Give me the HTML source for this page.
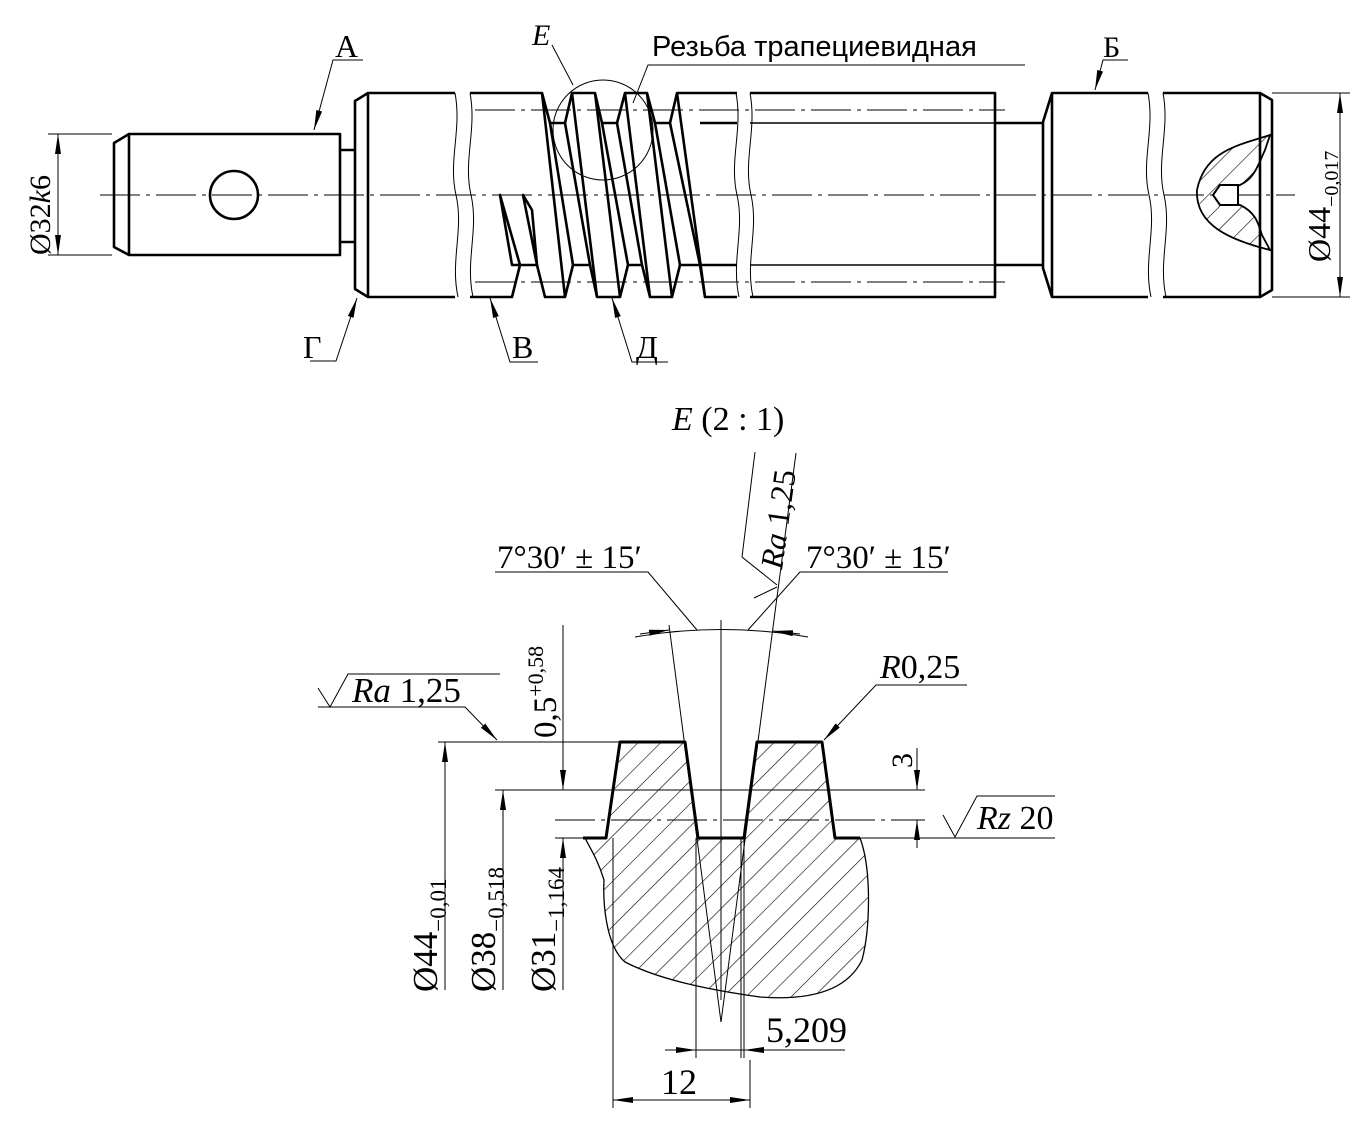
<!DOCTYPE html>
<html><head><meta charset="utf-8"><style>
html,body{margin:0;padding:0;background:#fff;}
svg{display:block;}
text{font-family:"Liberation Serif",serif;fill:#000;}
</style></head><body>
<svg width="1366" height="1128" viewBox="0 0 1366 1128" xmlns="http://www.w3.org/2000/svg">
<defs>
<marker id="ar" viewBox="0 0 20 8" refX="20" refY="4" markerWidth="20" markerHeight="8" markerUnits="userSpaceOnUse" orient="auto-start-reverse"><path d="M0,1 L20,4 L0,7 Z" fill="#000"/></marker>
<pattern id="h" patternUnits="userSpaceOnUse" width="16" height="16" patternTransform="rotate(45)"><line x1="0" y1="0" x2="0" y2="16" stroke="#000" stroke-width="1.2"/></pattern>
</defs>

<g fill="none" stroke="#000" stroke-width="1">
<line x1="100" y1="195" x2="1295" y2="195" stroke-dasharray="40,6,4,6"/>
<line x1="475" y1="110" x2="1005" y2="110" stroke-dasharray="40,6,4,6"/>
<line x1="475" y1="282" x2="1005" y2="282" stroke-dasharray="40,6,4,6"/>
<line x1="48" y1="134" x2="112" y2="134"/><line x1="48" y1="255" x2="112" y2="255"/>
<line x1="58" y1="134" x2="58" y2="255" marker-start="url(#ar)" marker-end="url(#ar)"/>
<line x1="1272" y1="93" x2="1350" y2="93"/><line x1="1272" y1="297" x2="1350" y2="297"/>
<line x1="1340" y1="93" x2="1340" y2="297" marker-start="url(#ar)" marker-end="url(#ar)"/>
<path d="M455,93 C462,130 448,160 456,195 C464,230 450,260 458,297"/>
<path d="M470,93 C477,130 463,160 471,195 C479,230 465,260 473,297"/>
<path d="M736,93 C743,130 729,160 737,195 C745,230 731,260 739,297"/>
<path d="M750,93 C757,130 743,160 751,195 C759,230 745,260 753,297"/>
<path d="M1148,93 C1155,130 1141,160 1149,195 C1157,230 1143,260 1151,297"/>
<path d="M1163,93 C1170,130 1156,160 1164,195 C1172,230 1158,260 1166,297"/>
<circle cx="603" cy="130" r="50"/>
<polyline points="363,60 333,60 314,130" marker-end="url(#ar)"/>
<polyline points="1128,60 1103,60 1095,90" marker-end="url(#ar)"/>
<polyline points="1025,65 648,65 633,103"/>
<line x1="552" y1="45" x2="573" y2="85"/>
<polyline points="310,361 336,361 357,298" marker-end="url(#ar)"/>
<polyline points="538,362 510,362 490,298" marker-end="url(#ar)"/>
<polyline points="668,362 632,362 612,298" marker-end="url(#ar)"/>
</g>
<g fill="none" stroke="#000" stroke-width="2.6" stroke-linejoin="round">
<path d="M129,134 L340,134 L340,255 L129,255 L114,247 L114,143 Z"/>
<line x1="129" y1="134" x2="129" y2="255"/>
<circle cx="234" cy="195" r="24"/>
<path d="M340,150 L355,150 M340,242 L355,242"/>
<path d="M455,93 L368,93 L355,101 L355,289 L368,297 L455,297"/>
<line x1="368" y1="93" x2="368" y2="297"/>
<polyline points="470,93 542,93 550,123 565,123 572,93 595,93 602,123 617,123 625,93 647,93 655,123 670,123 677,93 737,93"/>
<polyline points="470,297 512,297 520,265 537,265 545,297 565,297 573,265 590,265 597,297 620,297 628,265 642,265 650,297 672,297 680,265 700,265 705,297 737,297"/>
<line x1="542" y1="93" x2="565" y2="297"/>
<line x1="550" y1="123" x2="573" y2="265"/>
<line x1="565" y1="123" x2="590" y2="265"/>
<line x1="572" y1="93" x2="597" y2="297"/>
<line x1="595" y1="93" x2="620" y2="297"/>
<line x1="602" y1="123" x2="628" y2="265"/>
<line x1="617" y1="123" x2="642" y2="265"/>
<line x1="625" y1="93" x2="650" y2="297"/>
<line x1="647" y1="93" x2="672" y2="297"/>
<line x1="655" y1="123" x2="680" y2="265"/>
<line x1="670" y1="123" x2="700" y2="265"/>
<line x1="677" y1="93" x2="705" y2="297"/>
<path d="M500,195 L512,265 L520,265 Z"/>
<path d="M523,195 L537,265 L532,210 Z"/>
<line x1="700" y1="123" x2="737" y2="123"/><line x1="700" y1="265" x2="737" y2="265"/>
<polyline points="750,93 995,93 995,297 750,297"/>
<line x1="750" y1="123" x2="1005" y2="123" stroke-width="1.5"/>
<line x1="750" y1="265" x2="1005" y2="265" stroke-width="1.5"/>
<path d="M995,123 L1043,123 M995,265 L1043,265"/>
<path d="M1148,93 L1052,93 L1043,122 L1043,268 L1052,297 L1148,297"/>
<line x1="1052" y1="93" x2="1052" y2="297"/>
<path d="M1163,93 L1260,93 L1272,100 L1272,290 L1260,297 L1163,297"/>
<line x1="1260" y1="93" x2="1260" y2="297"/>
</g>
<path d="M1270,135 C1240,145 1205,150 1197,190 C1195,225 1230,240 1270,250 L1262,235 C1258,222 1255,212 1240,205 L1225,200 L1225,190 L1240,185 C1255,178 1258,165 1265,150 Z" fill="url(#h)" stroke="#000" stroke-width="1.8"/>
<path d="M1213,195 L1220,185 L1238,185 L1238,205 L1220,205 Z" fill="#fff" stroke="#000" stroke-width="2"/>

<text x="335" y="57" font-size="32">А</text>
<text x="1103" y="57" font-size="30">Б</text>
<text x="303" y="358" font-size="32">Г</text>
<text x="512" y="358" font-size="32">В</text>
<text x="636" y="358" font-size="32">Д</text>
<text x="532" y="45" font-size="30" font-style="italic">E</text>
<text x="652" y="56" font-size="29" style="font-family:'Liberation Sans',sans-serif">Резьба трапециевидная</text>
<text transform="translate(50,255) rotate(-90)" font-size="30">Ø32<tspan font-style="italic">k</tspan>6</text>
<text transform="translate(1330,262) rotate(-90)" font-size="32">Ø44<tspan font-size="20" dy="8">−0,017</tspan></text>

<text x="672" y="430" font-size="34"><tspan font-style="italic">E</tspan> (2 : 1)</text>
<path d="M606,838 L620,742 L685,742 L698,838 L744,838 L757,742 L822,742 L835,838 L860,838 C872,870 870,930 862,960 C845,995 800,1000 760,997 C710,990 660,980 625,962 C605,945 603,900 604,880 C598,860 590,848 585,838 Z" fill="url(#h)" stroke="none"/>
<path d="M585,838 C590,848 598,860 604,880 C603,900 605,945 625,962 C660,980 710,990 760,997 C800,1000 845,995 862,960 C870,930 872,870 860,838" fill="none" stroke="#000" stroke-width="1.3"/>
<polyline points="583,838 606,838 620,742 685,742 698,838 744,838 757,742 822,742 835,838 860,838" fill="none" stroke="#000" stroke-width="3" stroke-linejoin="round"/>
<g fill="none" stroke="#000" stroke-width="1">
<line x1="438" y1="742" x2="620" y2="742"/>
<line x1="495" y1="790" x2="925" y2="790"/>
<line x1="555" y1="820" x2="925" y2="820" stroke-dasharray="40,6,4,6"/>
<line x1="555" y1="838" x2="583" y2="838"/>
<line x1="860" y1="838" x2="1055" y2="838"/>
<line x1="445" y1="990" x2="445" y2="742" marker-end="url(#ar)"/>
<line x1="503" y1="990" x2="503" y2="790" marker-end="url(#ar)"/>
<line x1="563" y1="990" x2="563" y2="838" marker-end="url(#ar)"/>
<line x1="563" y1="625" x2="563" y2="790" marker-end="url(#ar)"/>
<line x1="917" y1="748" x2="917" y2="790" marker-end="url(#ar)"/>
<line x1="917" y1="848" x2="917" y2="820" marker-end="url(#ar)"/>
<line x1="721" y1="620" x2="721" y2="1000"/>
<line x1="669" y1="625" x2="721" y2="1022"/>
<line x1="796" y1="453" x2="721" y2="1022"/>
<path d="M635,637 Q721,622 808,637"/>
<line x1="640" y1="634" x2="669" y2="630" marker-end="url(#ar)"/>
<line x1="800" y1="634" x2="773" y2="631" marker-end="url(#ar)"/>
<polyline points="495,572 648,572 697,630"/>
<polyline points="948,572 800,572 748,630"/>
<polyline points="755,452 742,557 777,585"/>
<line x1="754" y1="598" x2="777" y2="587"/>
<line x1="696" y1="838" x2="696" y2="1058"/>
<line x1="744" y1="838" x2="744" y2="1058"/>
<line x1="741" y1="838" x2="741" y2="1058"/>
<line x1="665" y1="1050" x2="696" y2="1050" marker-end="url(#ar)"/>
<line x1="845" y1="1050" x2="744" y2="1050" marker-end="url(#ar)"/>
<line x1="696" y1="1050" x2="744" y2="1050"/>
<line x1="613" y1="838" x2="613" y2="1108"/>
<line x1="750" y1="1060" x2="750" y2="1108"/>
<line x1="613" y1="1100" x2="750" y2="1100" marker-start="url(#ar)" marker-end="url(#ar)"/>
<polyline points="318,688 330,707 348,674 500,674"/>
<polyline points="318,707 465,707 497,740" marker-end="url(#ar)"/>
<polyline points="967,685 876,685 824,740" marker-end="url(#ar)"/>
<polyline points="943,815 955,837 977,796 1055,796"/>
</g>
<text x="497" y="568" font-size="33">7°30′ ± 15′</text>
<text x="806" y="568" font-size="33">7°30′ ± 15′</text>
<text transform="translate(782,570) rotate(-82)" font-size="32"><tspan font-style="italic">Ra</tspan> 1,25</text>
<text x="352" y="702" font-size="35"><tspan font-style="italic">Ra</tspan> 1,25</text>
<text transform="translate(556,738) rotate(-90)" font-size="33">0,5<tspan font-size="22" dy="-13">+0,58</tspan></text>
<text x="880" y="678" font-size="34"><tspan font-style="italic">R</tspan>0,25</text>
<text transform="translate(912,768) rotate(-90)" font-size="30">3</text>
<text x="977" y="829" font-size="34"><tspan font-style="italic">Rz</tspan> 20</text>
<text transform="translate(437,992) rotate(-90)" font-size="35">Ø44<tspan font-size="23" dy="9">−0,01</tspan></text>
<text transform="translate(495,992) rotate(-90)" font-size="35">Ø38<tspan font-size="23" dy="9">−0,518</tspan></text>
<text transform="translate(555,992) rotate(-90)" font-size="35">Ø31<tspan font-size="23" dy="9">−1,164</tspan></text>
<text x="766" y="1042" font-size="36">5,209</text>
<text x="661" y="1094" font-size="36">12</text>
</svg>
</body></html>
